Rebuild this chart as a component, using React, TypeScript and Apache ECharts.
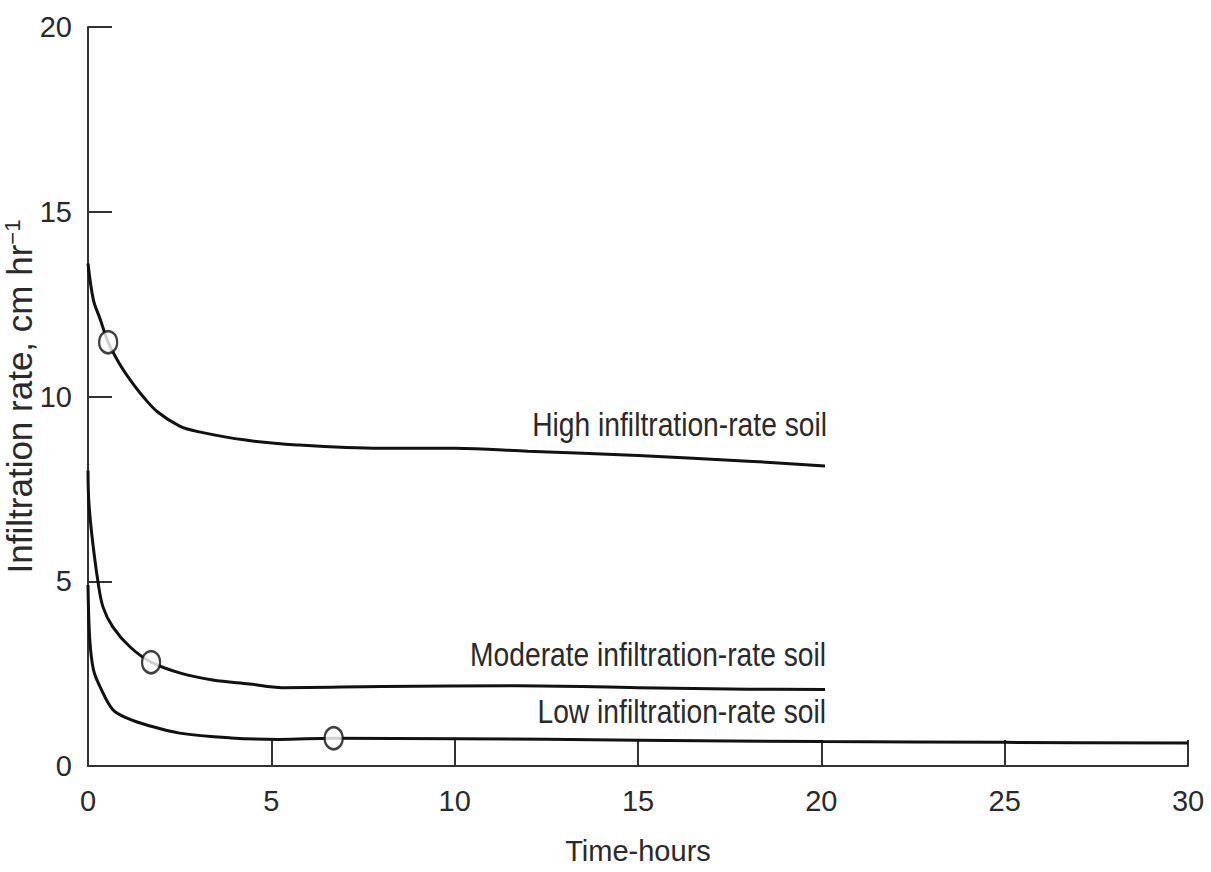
import React, { useEffect, useRef } from "react";
import * as echarts from "echarts";

const xTicks = [0, 5, 10, 15, 20, 25, 30];
const yTicks = [0, 5, 10, 15, 20];

const highT = [0, 0.15, 0.33, 0.55, 0.85, 1.15, 1.5, 1.9, 2.5, 3.0, 4.3, 5.7, 8, 10, 12, 15, 18, 20.1];
const highV = [13.6, 12.6, 12.1, 11.47, 10.9, 10.45, 10.0, 9.58, 9.2, 9.05, 8.82, 8.69, 8.6, 8.6, 8.52, 8.4, 8.25, 8.12];

const modT = [0, 0.02, 0.1, 0.27, 0.41, 0.68, 1.15, 1.72, 2.5, 3.4, 4.4, 5.3, 8, 11.7, 15, 18, 20.1];
const modV = [8.0, 7.2, 6.3, 5.0, 4.3, 3.76, 3.22, 2.81, 2.52, 2.33, 2.22, 2.12, 2.15, 2.17, 2.12, 2.08, 2.07];

const lowT = [0, 0.05, 0.15, 0.33, 0.68, 1.1, 1.6, 2.5, 3.9, 5.2, 6.7, 10, 15, 20, 25, 30];
const lowV = [4.9, 3.4, 2.6, 2.14, 1.52, 1.28, 1.11, 0.89, 0.76, 0.72, 0.75, 0.74, 0.7, 0.66, 0.64, 0.62];

const markerT = [0.55, 1.72, 6.7];
const markerV = [11.47, 2.81, 0.75];

const curveLabels = ["High infiltration-rate soil", "Moderate infiltration-rate soil", "Low infiltration-rate soil"];

const FONT = "'Liberation Sans', Arial, Helvetica, sans-serif";
const TEXT = "#2a2a2a";

const zip = (a: number[], b: number[]) => a.map((v, i) => [v, b[i]]);

export default function App() {
  const ref = useRef<HTMLDivElement>(null);
  useEffect(() => {
    if (!ref.current) return;
    const chart = echarts.init(ref.current, null, { renderer: "svg" });
    const lineStyle = { color: "#111", width: 3 };
    const curve = (name: string, data: number[][]) => ({
      name,
      type: "line",
      data,
      smooth: 0.35,
      symbol: "none",
      lineStyle,
      z: 2,
    });
    const label = (text: string, x: number, y: number) => ({
      type: "text",
      x,
      y,
      scaleX: 0.83,
      style: { text, align: "right", verticalAlign: "top", textAlign: "right", textVerticalAlign: "top", font: `34px ${FONT}`, fill: TEXT },
    });
    chart.setOption({
      animation: false,
      backgroundColor: "#fff",
      grid: { left: 88, right: 23, top: 27, bottom: 106, containLabel: false, outerBoundsMode: "none" },
      xAxis: {
        type: "value",
        min: xTicks[0],
        max: xTicks[xTicks.length - 1],
        interval: 5,
        name: "Time-hours",
        nameLocation: "middle",
        nameGap: 70,
        nameMoveOverlap: false,
        nameTextStyle: { fontFamily: FONT, fontSize: 29, color: TEXT },
        axisLine: { lineStyle: { color: "#333", width: 2 } },
        axisTick: { inside: true, length: 26, lineStyle: { color: "#333", width: 2 } },
        axisLabel: { fontFamily: FONT, fontSize: 29, color: TEXT, margin: 20 },
        splitLine: { show: false },
      },
      yAxis: {
        type: "value",
        min: yTicks[0],
        max: yTicks[yTicks.length - 1],
        interval: 5,
        name: "Infiltration rate, cm hr{sup|−1}",
        nameLocation: "middle",
        nameGap: 51,
        nameRotate: 90,
        nameMoveOverlap: false,
        nameTextStyle: {
          fontFamily: FONT,
          fontSize: 35,
          color: TEXT,
          rich: { sup: { fontFamily: FONT, fontSize: 22, color: TEXT, verticalAlign: "top", padding: [0, 0, 14, 0] } },
        },
        axisLine: { show: true, lineStyle: { color: "#333", width: 2 } },
        axisTick: { show: true, inside: true, length: 24, lineStyle: { color: "#333", width: 2 } },
        axisLabel: { fontFamily: FONT, fontSize: 29, color: TEXT, margin: 16 },
        splitLine: { show: false },
      },
      series: [
        curve(curveLabels[0], zip(highT, highV)),
        curve(curveLabels[1], zip(modT, modV)),
        curve(curveLabels[2], zip(lowT, lowV)),
        {
          type: "scatter",
          data: zip(markerT, markerV),
          symbol: "circle",
          symbolSize: [18, 22],
          itemStyle: { color: "#fff", borderColor: "#111", borderWidth: 2.5 },
          z: 5,
        },
      ],
      graphic: [
        label(curveLabels[0], 827, 408),
        label(curveLabels[1], 826, 638),
        label(curveLabels[2], 826, 695),
      ],
    });
    return () => chart.dispose();
  }, []);
  return <div ref={ref} style={{ position: "fixed", left: 0, top: 0, width: 1211, height: 872 }} />;
}
